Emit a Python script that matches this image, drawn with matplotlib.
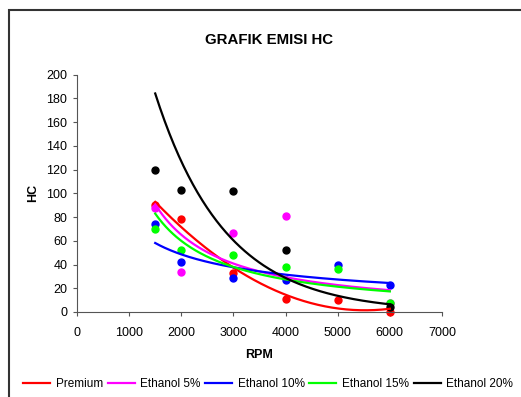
import matplotlib.pyplot as plt
import numpy as np
from matplotlib.patches import Rectangle

plt.rcParams['font.family'] = ['Liberation Sans', 'DejaVu Sans']

# ================= Data =================
rpm = np.array([1500, 2000, 3000, 4000, 5000, 6000])

premium = [90, 78, 33, 11, 10, 0]
ethanol5 = [88, 34, 67, 81, np.nan, 8]      # no visible point at 5000
ethanol10 = [74, 42, 29, 27, 40, 23]
ethanol15 = [70, 52, 48, 38, 36, 8]
ethanol20 = [120, 103, 102, 52, np.nan, 4]  # no visible point at 5000

labels = ["Premium", "Ethanol 5%", "Ethanol 10%", "Ethanol 15%", "Ethanol 20%"]
colors = ["#ff0000", "#ff00ff", "#0000ff", "#00ff00", "#000000"]
series = [premium, ethanol5, ethanol10, ethanol15, ethanol20]
fit_kind = ["poly", "power", "power", "power", "exp"]   # trendline type per series

x_ticks = np.arange(0, 7001, 1000)
y_ticks = np.arange(0, 201, 20)

# ================= Trendlines =================
xs = np.linspace(1500, 6000, 200)


def trend(y, kind):
    y = np.array(y, dtype=float)
    m = ~np.isnan(y)
    x, y = rpm[m], y[m]
    if kind == "poly":
        c = np.polyfit(x, y, 2)
        return np.polyval(c, xs)
    if kind == "exp":
        b, a = np.polyfit(x, np.log(y), 1)
        return np.exp(a + b * xs)
    b, a = np.polyfit(np.log(x), np.log(y), 1)
    return np.exp(a) * xs ** b


# ================= Plot =================
fig = plt.figure(figsize=(5.21, 3.97), dpi=100)
fig.patches.append(Rectangle((9 / 521, -0.1), 1.2, 1.1 - 10 / 397,
                             transform=fig.transFigure, fill=False,
                             edgecolor='#333333', linewidth=1.5))

ax = fig.add_axes([77 / 521, 1 - 312 / 397, (442 - 77) / 521, (312 - 74.7) / 397])

handles = []
for y, c, lab, k in zip(series, colors, labels, fit_kind):
    ax.plot(rpm, y, 'o', color=c, markersize=5, clip_on=False, zorder=2)
    h, = ax.plot(xs, trend(y, k), '-', color=c, linewidth=1.6, label=lab, zorder=3)
    handles.append(h)

ax.set_xlim(0, 7000)
ax.set_ylim(0, 200)
ax.set_xticks(x_ticks)
ax.set_yticks(y_ticks)
ax.tick_params(labelsize=9, length=3, color='#555555')
ax.tick_params(axis='x', pad=8)
ax.tick_params(axis='y', pad=4)
for s in ['top', 'right']:
    ax.spines[s].set_visible(False)
for s in ['left', 'bottom']:
    ax.spines[s].set_color('#555555')
    ax.spines[s].set_linewidth(0.8)

ax.set_xlabel("RPM", fontsize=9, fontweight='bold', labelpad=7)
ax.set_ylabel("HC", fontsize=9, fontweight='bold', labelpad=5)

fig.text(269.5 / 521, 1 - 39.5 / 397, "GRAFIK EMISI HC", ha='center', va='center',
         fontsize=10.8, fontweight='bold')

fig.legend(handles=handles, loc='center', bbox_to_anchor=(268 / 521, 1 - 384 / 397),
           ncol=5, frameon=False, fontsize=8.5, handlelength=2.3,
           handletextpad=0.45, columnspacing=0.4)

fig.savefig('out.png', dpi=100)
